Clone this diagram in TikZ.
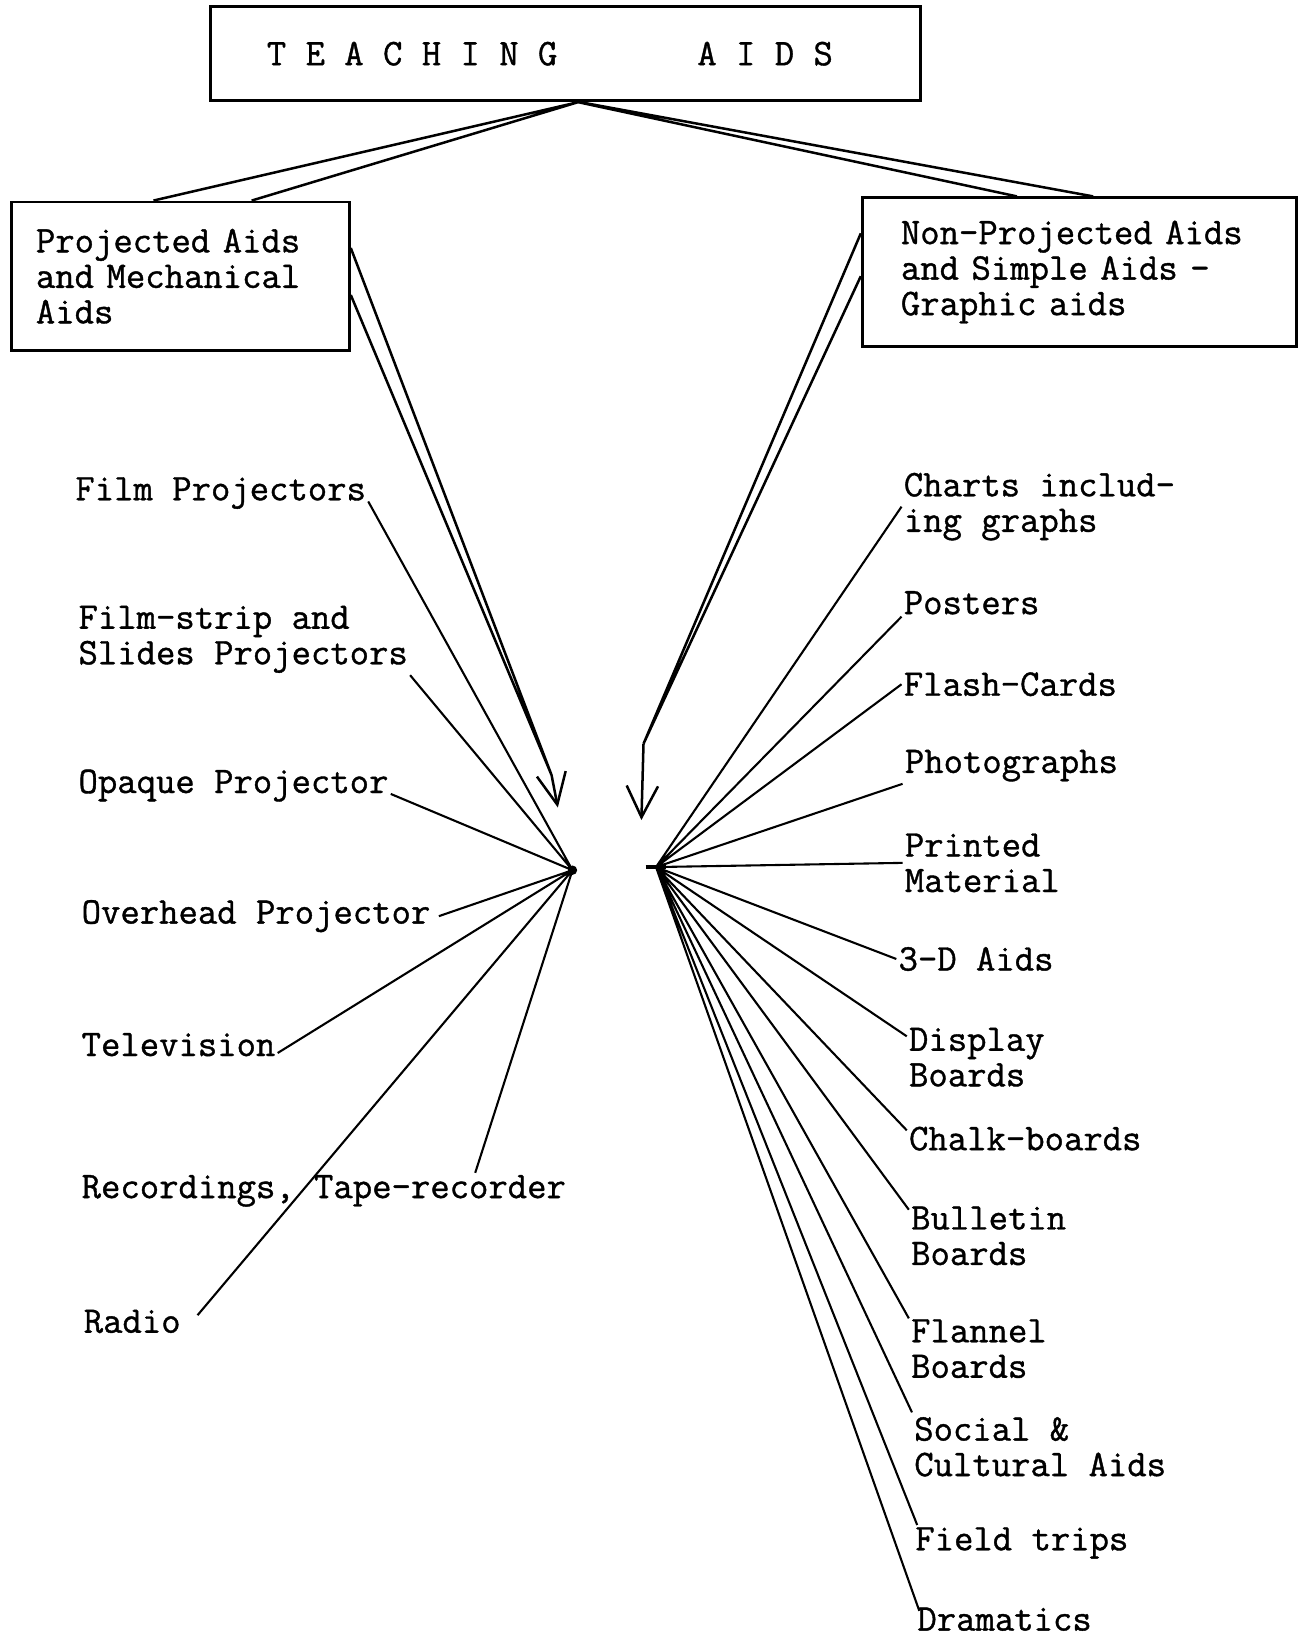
\documentclass[tikz,border=0pt]{standalone}
\usepackage{fontspec}
\setmonofont{Latin Modern Mono}[FakeBold=1]
\usetikzlibrary{arrows.meta}
\tikzset{
  typed/.style={font=\fontsize{36}{34}\selectfont\ttfamily, inner sep=2pt},
  aid/.style={typed, align=left, anchor=west},
  box/.style={typed, draw, line width=2.8pt, anchor=north west},
  spoke/.style={line width=2pt},
  feed/.style={line width=2.4pt},
}
\begin{document}
\begin{tikzpicture}[x=1pt,y=-1pt]
	\useasboundingbox (0,0) rectangle (1247,1568);
	
	\node[box, minimum width=680pt, minimum height=90pt] (title) at (200,5) {T E A C H I N G\hspace{134pt}A I D S\hspace{30pt}\mbox{}};
	\node[box, align=left, text width=277pt, inner xsep=23pt, minimum height=142pt] (proj) at (10,192) {Projected Aids\\and Mechanical\\Aids};
	\node[box, align=left, text width=342pt, inner xsep=37pt, minimum height=142pt] (nonproj) at (824,188) {Non-Projected Aids\\and Simple Aids -\\Graphic aids};
	
	\draw[feed] ([xshift=12pt]title.south) -- ([xshift=-26pt]proj.north)
		([xshift=12pt]title.south) -- ([xshift=68pt]proj.north)
		([xshift=12pt]title.south) -- ([xshift=-60pt]nonproj.north)
		([xshift=14pt]title.south) -- ([xshift=13pt]nonproj.north);
	
	\coordinate (lhub) at (548,833);
	\coordinate (rhub) at (628,830);
	\coordinate (lbend) at (528,742);
	\coordinate (ltip) at (534,773);
	\coordinate (rbend) at (616,712);
	\coordinate (rtip) at (614,785);
	
	\draw[feed] ([yshift=27pt]proj.east) -- (lbend) ([yshift=-18pt]proj.east) -- (lbend);
	\draw[feed, -{Straight Barb[length=30pt,width=28pt]}] (lbend) -- (ltip);
	\draw[feed] ([yshift=37pt]nonproj.west) -- (rbend) ([yshift=-4pt]nonproj.west) -- (rbend);
	\draw[feed, -{Straight Barb[length=30pt,width=30pt]}] (rbend) -- (rtip);
	
	% projected side
	\node[aid] (film) at (70,472) {Film Projectors};
	\node[aid] (strip) at (73,612) {Film-strip and\\Slides Projectors};
	\node[aid] (opaque) at (73,752) {Opaque Projector};
	\node[aid] (overhead) at (76,877) {Overhead Projector};
	\node[aid] (tv) at (76,1000) {Television};
	\node[aid] (rec) at (76,1140) {Recordings, Tape-recorder};
	\node[aid] (radio) at (78,1265) {Radio};
	
	\fill (lhub) circle(4.5pt);
	\draw[spoke] (lhub) -- ([yshift=-8pt]film.east)
		(lhub) -- (strip.south east)
		(lhub) -- ([yshift=-8pt]opaque.east)
		(lhub) -- ([xshift=6pt]overhead.east)
		(lhub) -- ([yshift=-8pt]tv.east)
		(lhub) -- ([xshift=-89pt]rec.north east)
		(lhub) -- ([xshift=14pt,yshift=6pt]radio.east);
	
	% non-projected side
	\node[aid] (charts) at (863,485) {Charts includ-\\ing graphs};
	\node[aid] (posters) at (863,577) {Posters};
	\node[aid] (flash) at (863,655) {Flash-Cards};
	\node[aid] (photo) at (864,733) {Photographs};
	\node[aid] (printed) at (864,826) {Printed\\Material};
	\node[aid] (threed) at (858,918) {3-D Aids};
	\node[aid] (display) at (868,1012) {Display\\Boards};
	\node[aid] (chalk) at (868,1090) {Chalk-boards};
	\node[aid] (bulletin) at (870,1183) {Bulletin\\Boards};
	\node[aid] (flannel) at (870,1291) {Flannel\\Boards};
	\node[aid] (social) at (873,1385) {Social \&\\Cultural Aids};
	\node[aid] (field) at (874,1477) {Field trips};
	\node[aid] (drama) at (876,1550) {Dramatics};
	
	\draw[line width=4.5pt] ([xshift=-10pt]rhub) -- ([xshift=10pt]rhub);
	\draw[spoke] (rhub) -- (charts.west)
		(rhub) -- (posters.south west)
		(rhub) -- (flash.west)
		(rhub) -- (photo.south west)
		(rhub) -- (printed.west)
		(rhub) -- (threed.west)
		(rhub) -- ([yshift=20pt]display.west)
		(rhub) -- ([yshift=8pt]chalk.west)
		(rhub) -- ([yshift=25pt]bulletin.west)
		(rhub) -- ([yshift=29pt]flannel.west)
		(rhub) -- ([yshift=33pt]social.west)
		(rhub) -- ([xshift=4pt]field.north west)
		(rhub) -- ([xshift=4pt,yshift=8pt]drama.west);
\end{tikzpicture}
\end{document}
